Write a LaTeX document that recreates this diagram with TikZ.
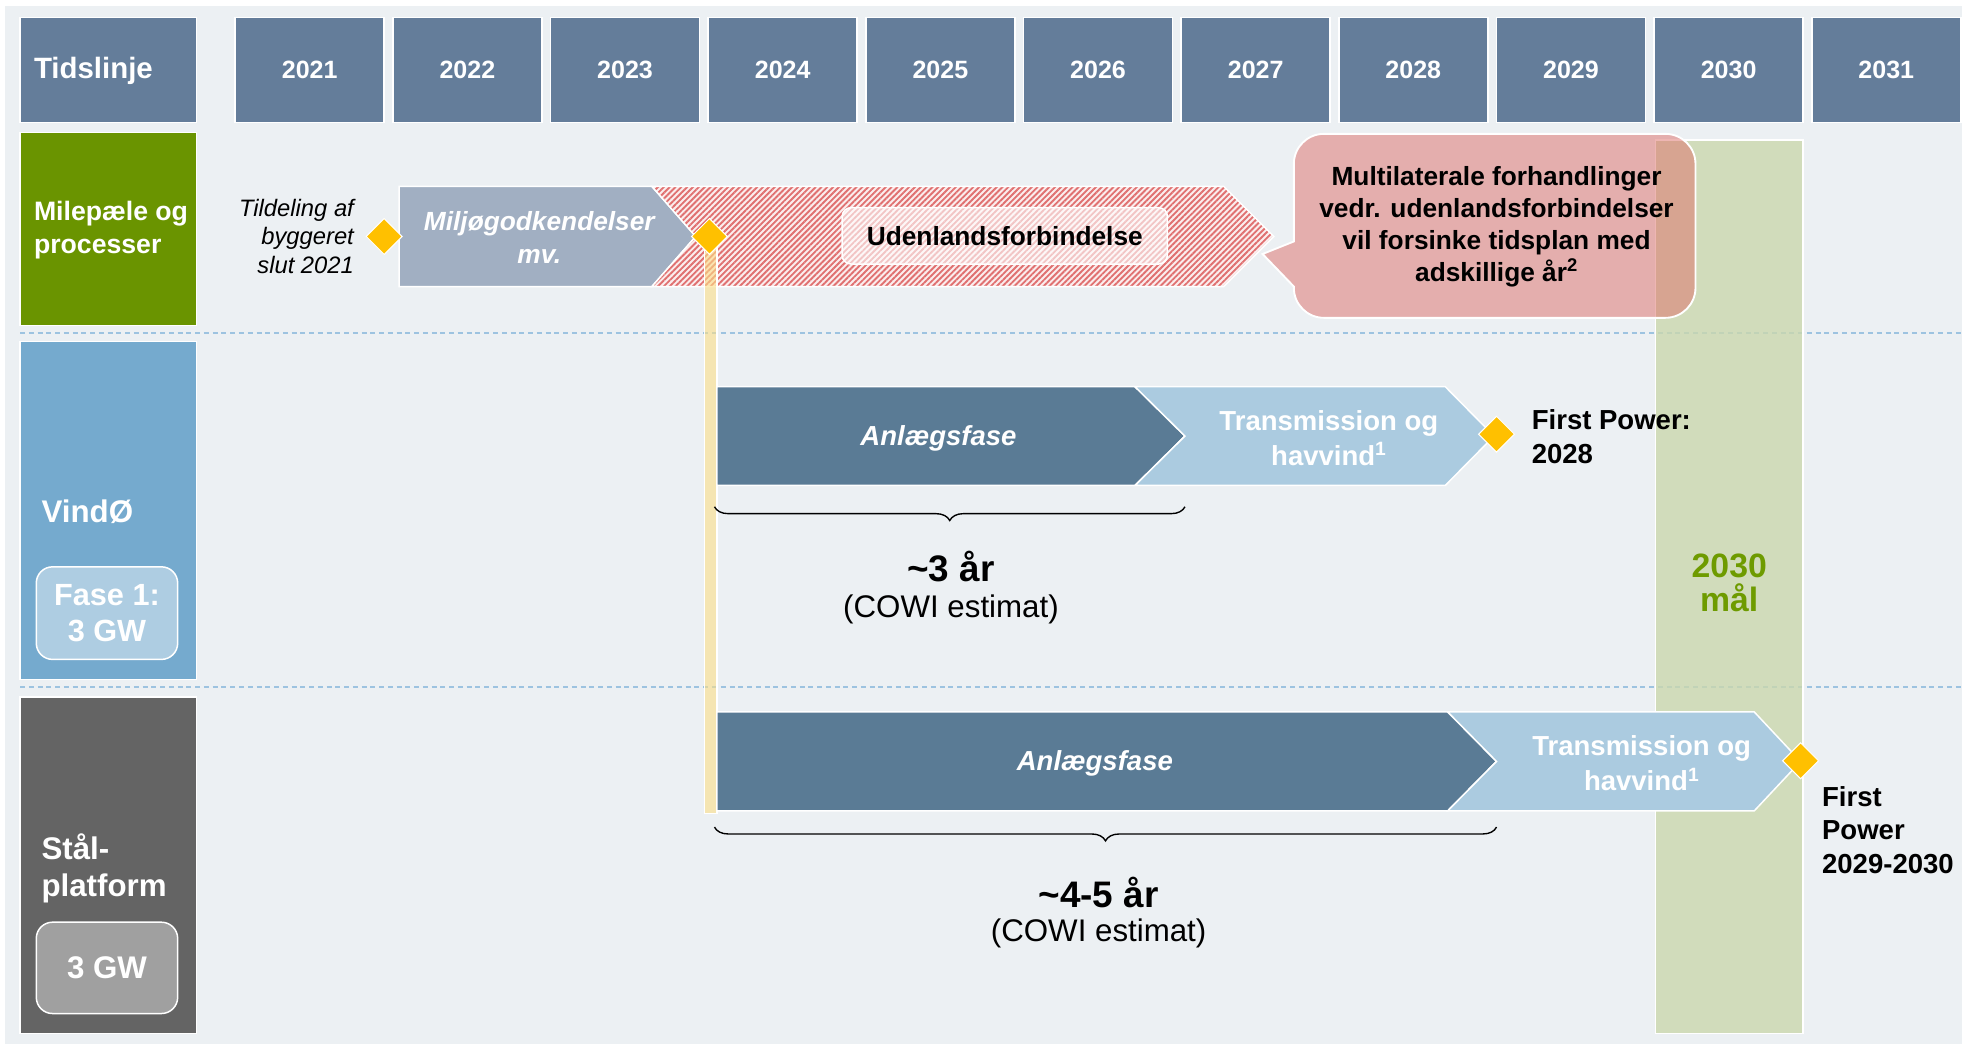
\documentclass[tikz,border=0pt]{standalone}
\usepackage{fontspec}
\setmainfont{Liberation Sans}
\usetikzlibrary{patterns.meta,decorations.pathreplacing,shapes.geometric}
\definecolor{bg}{HTML}{ECF0F3}
\definecolor{hdrblue}{HTML}{647D9A}
\definecolor{milegreen}{HTML}{6A9400}
\definecolor{vindblue}{HTML}{75AACE}
\definecolor{faseblue}{HTML}{AECDE2}
\definecolor{staalgray}{HTML}{646464}
\definecolor{gwgray}{HTML}{A0A0A0}
\definecolor{miljo}{HTML}{A1AFC2}
\definecolor{anlaeg}{HTML}{5A7B95}
\definecolor{trans}{HTML}{ABCBE0}
\definecolor{diamc}{HTML}{FFC000}
\definecolor{callred}{RGB}{222,110,105}
\definecolor{colgreen}{RGB}{203,216,173}
\definecolor{goalgreen}{HTML}{6E9B00}
\definecolor{baryellow}{RGB}{251,223,135}
\definecolor{hatchred}{HTML}{E07070}
\definecolor{hatchbg}{HTML}{FBEDED}
\definecolor{dashblue}{HTML}{9DC3E0}
\newcommand\fs[2]{\fontsize{#1}{#2}\selectfont}
\begin{document}
\begin{tikzpicture}[x=1pt,y=-1pt,
  hbox/.style={draw=white, line width=1.2pt, inner sep=0pt, outer sep=0pt, anchor=north west},
  wtxt/.style={text=white, inner sep=0pt, align=left},
  chev/.style={draw=white, line width=1.2pt},
  chevtxt/.style={text=white, inner sep=0pt, align=center, font=\bfseries\fs{22}{28}},
  diam/.style={shape=diamond, fill=diamc, draw=white, line width=0.8pt, minimum width=29pt, minimum height=29pt, inner sep=0pt},
  dashline/.style={draw=dashblue, line width=1.3pt, dash pattern=on 4pt off 3pt},
  bracestyle/.style={draw=black, line width=1.1pt, decorate, decoration={brace, mirror, amplitude=11pt}},
  btxt/.style={inner sep=0pt, align=left, font=\bfseries\fs{22}{27}}
]
\useasboundingbox (0,0) rectangle (1568,834);
\fill[bg] (4,5) rectangle (1568,834);

% dashed separators
\coordinate (d1a) at (16,266); \coordinate (d1b) at (1568,266);
\coordinate (d2a) at (16,549); \coordinate (d2b) at (1568,549);
\draw[dashline] (d1a) -- (d1b);
\draw[dashline] (d2a) -- (d2b);

% 2030 goal column
\node[hbox, fill=colgreen, fill opacity=0.8, minimum width=118pt, minimum height=714pt] (col) at (1323,112) {};
\node[inner sep=0pt, align=center, text=goalgreen, font=\bfseries\fs{27}{27}] (goal) at (1382,466) {2030\\mål};

% header row
\node[hbox, fill=hdrblue, minimum width=141pt, minimum height=84pt] (tl) at (16,14) {};
\node[wtxt, anchor=west, font=\bfseries\fs{23.5}{26}] (tltxt) at (27,57) {Tidslinje};
\foreach \yr [count=\i from 0] in {2021,...,2031}
  \node[hbox, fill=hdrblue, minimum width=119pt, minimum height=84pt, text=white, font=\bfseries\fs{20}{24}] (y\yr) at ({188+126*\i},14) {\yr};

% row headers
\node[hbox, fill=milegreen, minimum width=141pt, minimum height=154pt] (mile) at (16,106) {};
\node[wtxt, anchor=west, font=\bfseries\fs{21.3}{26}] (miletxt) at (27,184) {Milepæle og\\processer};

\node[hbox, fill=vindblue, minimum width=141pt, minimum height=270pt] (vind) at (16,273) {};
\node[wtxt, anchor=west, font=\bfseries\fs{25}{30}] (vindtxt) at (33,409) {VindØ};
\node[hbox, fill=faseblue, rounded corners=13pt, minimum width=113pt, minimum height=74pt, text=white, align=center, font=\bfseries\fs{24.5}{29}] (fase) at (29,453) {Fase 1:\\3 GW};

\node[hbox, fill=staalgray, minimum width=141pt, minimum height=269pt] (staal) at (16,557) {};
\node[wtxt, anchor=west, font=\bfseries\fs{25}{30}] (staaltxt) at (33,694) {Stål-\\platform};
\node[hbox, fill=gwgray, rounded corners=13pt, minimum width=113pt, minimum height=73pt, text=white, align=center, font=\bfseries\fs{25}{29}] (gw) at (29,737) {3 GW};

% milestones row
\node[inner sep=0pt, anchor=east, align=right, font=\itshape\fs{19}{23}] (tild) at (283,189) {Tildeling af\\byggeret\\slut 2021};
\draw[chev, fill=miljo] (319,149) -- (521,149) -- (556,189) -- (521,229) -- (319,229) -- cycle;
\node[chevtxt, font=\bfseries\itshape\fs{21}{26}] (miljotxt) at (431,190) {Miljøgodkendelser\\mv.};
\draw[chev, preaction={fill=hatchbg}, pattern={Lines[angle=45,distance=3.3pt,line width=1.5pt]}, pattern color=hatchred]
  (521,149) -- (978,149) -- (1018,189) -- (978,229) -- (521,229) -- (556,189) -- cycle;
\node[hbox, fill=white, fill opacity=0.6, text opacity=1, rounded corners=7pt, minimum width=260pt, minimum height=45pt, font=\bfseries\fs{21}{25}] (udl) at (673,166) {Udenlandsforbindelse};

% yellow bar
\node[hbox, fill=baryellow, fill opacity=0.6, minimum width=10pt, minimum height=461pt] (bar) at (563,189) {};

% diamonds milestones
\node[diam] (dtild) at (307,189) {};
\node[diam] (dmiljo) at (567,189) {};

% callout
\path[fill=callred, fill opacity=0.5, draw=white, line width=1.5pt]
  (1009,203) -- (1034,193) [rounded corners=24pt] -- (1034,107) -- (1355,107) -- (1355,254) -- (1034,254) [sharp corners] -- (1034,229) -- cycle;
\node[inner sep=0pt, align=center, font=\bfseries\fs{21}{25.5}] (calltxt) at (1196,181) {Multilaterale forhandlinger\\vedr. udenlandsforbindelser\\vil forsinke tidsplan med\\adskillige år\textsuperscript{2}};

% VindØ row
\draw[chev, fill=anlaeg] (573,309) -- (907,309) -- (947,348.5) -- (907,388) -- (573,388) -- cycle;
\draw[chev, fill=trans] (907,309) -- (1155,309) -- (1194,348.5) -- (1155,388) -- (907,388) -- (947,348.5) -- cycle;
\node[chevtxt, font=\bfseries\itshape\fs{22}{28}] (anl1) at (750,350) {Anlægsfase};
\node[chevtxt] (tr1) at (1062,350) {Transmission og\\havvind\textsuperscript{1}};
\node[diam] (dfp1) at (1196,347) {};
\node[btxt, anchor=west] (fp1) at (1224,349) {First Power:\\2028};
\coordinate (b1a) at (571,405); \coordinate (b1b) at (947,405);
\draw[bracestyle] (b1a) -- (b1b);
\node[inner sep=0pt, font=\bfseries\fs{29.5}{30}] (yr3) at (760,453) {\textasciitilde 3 år};
\node[inner sep=0pt, font=\fs{25}{28}] (cowi1) at (760,487) {(COWI estimat)};

% Staal row
\draw[chev, fill=anlaeg] (573,569) -- (1157,569) -- (1196,608.5) -- (1157,648) -- (573,648) -- cycle;
\draw[chev, fill=trans] (1157,569) -- (1402,569) -- (1439,608.5) -- (1402,648) -- (1157,648) -- (1196,608.5) -- cycle;
\node[chevtxt, font=\bfseries\itshape\fs{22}{28}] (anl2) at (875,610) {Anlægsfase};
\node[chevtxt] (tr2) at (1312,610) {Transmission og\\havvind\textsuperscript{1}};
\node[diam] (dfp2) at (1439,608) {};
\node[btxt, anchor=north west] (fp2) at (1456,628) {First\\Power\\2029-2030};
\coordinate (b2a) at (571,661); \coordinate (b2b) at (1196,661);
\draw[bracestyle] (b2a) -- (b2b);
\node[inner sep=0pt, font=\bfseries\fs{29.5}{30}] (yr45) at (878,713) {\textasciitilde 4-5 år};
\node[inner sep=0pt, font=\fs{25}{28}] (cowi2) at (878,746) {(COWI estimat)};
\end{tikzpicture}
\end{document}
